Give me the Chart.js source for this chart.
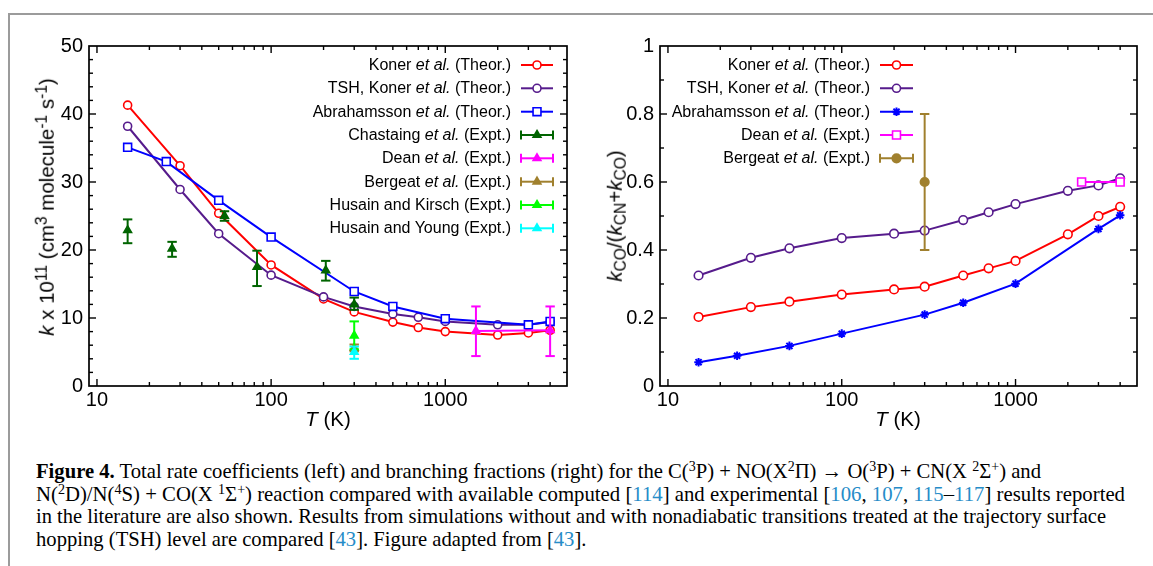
<!DOCTYPE html>
<html><head><meta charset="utf-8">
<script src="https://cdn.jsdelivr.net/npm/chart.js@4.4.1/dist/chart.umd.min.js"></script>
<style>
html,body{margin:0;padding:0;background:#fff}
body{width:1153px;height:566px;position:relative;overflow:hidden;font-family:"Liberation Sans",Arial,sans-serif;color:#000}
.gtop{position:absolute;left:8px;top:13px;width:1145px;height:2px;background:#9b9b9b}
.gleft{position:absolute;left:8px;top:13px;width:2px;height:553px;background:#9b9b9b}
canvas{position:absolute;top:0}
.ytitle,.xtitle{position:absolute;font-size:20.5px;white-space:nowrap;line-height:1}
.ytitle{transform:translate(-50%,-50%) rotate(-90deg)}
.xtitle{transform:translate(-50%,-50%)}
sup{font-size:0.76em;vertical-align:0.45em;line-height:0}
sub{font-size:0.76em;vertical-align:-0.28em;line-height:0}
.leg{position:absolute;font-size:16px;line-height:20px;height:20px;text-align:right;white-space:nowrap}
.cap{position:absolute;left:36px;font-family:"Liberation Serif","Times New Roman",serif;font-size:21.5px;line-height:23px;white-space:nowrap;transform-origin:0 0;display:inline-block}
.cap sup{font-size:0.68em;vertical-align:0.5em}
.ref{color:#268cc8}
</style>
</head><body>
<div class="gtop"></div><div class="gleft"></div>
<canvas id="c1" width="580" height="440" style="left:0"></canvas>
<canvas id="c2" width="573" height="440" style="left:580px"></canvas>

<div class="ytitle" style="left:47px;top:207px"><i>k</i> x 10<sup>11</sup> (cm<sup>3</sup> molecule<sup>-1</sup> s<sup>-1</sup>)</div>
<div class="ytitle" style="left:615px;top:216px"><i>k</i><sub>CO</sub>/(<i>k</i><sub>CN</sub>+<i>k</i><sub>CO</sub>)</div>
<div class="xtitle" style="left:328px;top:419px"><i>T</i> (K)</div>
<div class="xtitle" style="left:898px;top:419px"><i>T</i> (K)</div>

<div class="leg" style="left:0;width:511px;top:55px">Koner <i>et al.</i> (Theor.)</div>
<div class="leg" style="left:0;width:511px;top:78.3px">TSH, Koner <i>et al.</i> (Theor.)</div>
<div class="leg" style="left:0;width:511px;top:101.7px">Abrahamsson <i>et al.</i> (Theor.)</div>
<div class="leg" style="left:0;width:511px;top:125px">Chastaing <i>et al.</i> (Expt.)</div>
<div class="leg" style="left:0;width:511px;top:148.3px">Dean <i>et al.</i> (Expt.)</div>
<div class="leg" style="left:0;width:511px;top:171.7px">Bergeat <i>et al.</i> (Expt.)</div>
<div class="leg" style="left:0;width:511px;top:195px">Husain and Kirsch (Expt.)</div>
<div class="leg" style="left:0;width:511px;top:218.3px">Husain and Young (Expt.)</div>

<div class="leg" style="left:580px;width:290px;top:55px">Koner <i>et al.</i> (Theor.)</div>
<div class="leg" style="left:580px;width:290px;top:78.3px">TSH, Koner <i>et al.</i> (Theor.)</div>
<div class="leg" style="left:580px;width:290px;top:101.7px">Abrahamsson <i>et al.</i> (Theor.)</div>
<div class="leg" style="left:580px;width:290px;top:125px">Dean <i>et al.</i> (Expt.)</div>
<div class="leg" style="left:580px;width:290px;top:148.3px">Bergeat <i>et al.</i> (Expt.)</div>

<div class="cap" data-w="1005" style="top:459.6px"><b>Figure 4.</b> Total rate coefficients (left) and branching fractions (right) for the C(<sup>3</sup>P) + NO(X<sup>2</sup>Π) → O(<sup>3</sup>P) + CN(X <sup>2</sup>Σ<sup>+</sup>) and</div>
<div class="cap" data-w="1089" style="top:482.6px">N(<sup>2</sup>D)/N(<sup>4</sup>S) + CO(X <sup>1</sup>Σ<sup>+</sup>) reaction compared with available computed [<span class="ref">114</span>] and experimental [<span class="ref">106</span>, <span class="ref">107</span>, <span class="ref">115</span>–<span class="ref">117</span>] results reported</div>
<div class="cap" data-w="1070" style="top:505.3px">in the literature are also shown. Results from simulations without and with nonadiabatic transitions treated at the trajectory surface</div>
<div class="cap" data-w="0" style="top:528.1px">hopping (TSH) level are compared [<span class="ref">43</span>]. Figure adapted from [<span class="ref">43</span>].</div>

<script>
// ---------- DATA ----------
const xTickValues = [10, 100, 1000];
const kTicks = [0, 10, 20, 30, 40, 50];
const bfTicks = [0, 0.2, 0.4, 0.6, 0.8, 1];

// Left panel: k x 10^11 (cm3 molecule-1 s-1)
const theorT = [15, 30, 50, 100, 200, 300, 500, 700, 1000, 2000, 3000, 4000];
const kKoner = [41.3, 32.4, 25.4, 17.8, 12.8, 10.9, 9.4, 8.6, 8.0, 7.5, 7.8, 8.2];
const kTSH = [38.2, 28.9, 22.4, 16.3, 13.1, 11.7, 10.6, 10.1, 9.5, 9.0, 9.0, 9.4];
const abrT = [15, 25, 50, 100, 300, 500, 1000, 3000, 4000];
const kAbr = [35.1, 33.0, 27.3, 21.9, 13.9, 11.7, 9.9, 9.0, 9.5];
const chastT = [15, 27, 54, 83, 206, 300];
const chastK = [22.9, 20.2, 25.0, 17.5, 17.0, 12.0];
const chastLo = [21.0, 19.0, 24.3, 14.7, 15.5, 11.2];
const chastHi = [24.5, 21.2, 25.7, 19.9, 18.4, 13.0];
const deanT = [1500, 4000];
const deanK = [8.1, 8.2];
const deanLo = [4.4, 4.4];
const deanHi = [11.7, 11.7];
const bergT = [300];
const bergK = [5.6];
const bergLo = [5.1];
const bergHi = [6.1];
const hkT = [300];
const hkK = [7.4];
const hkLo = [5.4];
const hkHi = [9.5];
const hyT = [300];
const hyK = [5.0];
const hyLo = [4.0];
const hyHi = [5.8];

// Right panel: branching fraction kCO/(kCN+kCO)
const bfKoner = [0.203, 0.232, 0.248, 0.269, 0.284, 0.292, 0.325, 0.346, 0.368, 0.446, 0.500, 0.527];
const bfTSH = [0.325, 0.377, 0.405, 0.435, 0.448, 0.457, 0.488, 0.511, 0.535, 0.574, 0.590, 0.611];
const bfAbr = [0.070, 0.089, 0.118, 0.154, 0.210, 0.245, 0.301, 0.462, 0.502];
const bfDeanT = [2400, 4000];
const bfDean = [0.6, 0.6];
const bfBergT = [300];
const bfBerg = [0.6];
const bfBergLo = [0.4];
const bfBergHi = [0.8];

// ---------- STYLE ----------
const RED = '#ff0000', PURPLE = '#561b8c', BLUE = '#0000ff', DGREEN = '#006400',
      MAGENTA = '#ff00ff', BROWN = '#a0802e', GREEN = '#00ff00', CYAN = '#00ffff';

Chart.defaults.font.family = '"Liberation Sans", Arial, sans-serif';
Chart.defaults.color = '#000';

const pts = (xs, ys) => xs.map((x, i) => ({x, y: ys[i]}));

function ds(label, xs, ys, color, style, opt = {}) {
  return Object.assign({
    label, data: pts(xs, ys), borderColor: color, backgroundColor: color,
    borderWidth: 2, showLine: true, tension: 0,
    pointStyle: style, pointRadius: 4, pointBorderWidth: 1.6,
    pointBorderColor: color, pointBackgroundColor: '#fff', pointHoverRadius: 4
  }, opt);
}
function expt(label, xs, ys, lo, hi, color, style, line, opt = {}) {
  return ds(label, xs, ys, color, style, Object.assign({
    showLine: line, errLo: lo, errHi: hi, pointBackgroundColor: color, pointRadius: 4.5
  }, opt));
}

// ---------- PLUGINS ----------
function seg(ctx, x1, y1, x2, y2) { ctx.beginPath(); ctx.moveTo(x1, y1); ctx.lineTo(x2, y2); ctx.stroke(); }

function marker(ctx, style, x, y, r, color, solid) {
  ctx.save();
  ctx.strokeStyle = color; ctx.lineWidth = 1.6;
  ctx.fillStyle = solid ? color : '#ffffff';
  ctx.beginPath();
  if (style === 'circle') {
    ctx.arc(x, y, r, 0, Math.PI * 2); ctx.fill(); ctx.stroke();
  } else if (style === 'rect') {
    const s = r * Math.SQRT1_2; ctx.rect(x - s, y - s, 2 * s, 2 * s); ctx.fill(); ctx.stroke();
  } else if (style === 'triangle') {
    for (let k = 0; k < 3; k++) {
      const a = -Math.PI / 2 + k * 2 * Math.PI / 3;
      const px = x + r * Math.cos(a), py = y + r * Math.sin(a);
      k ? ctx.lineTo(px, py) : ctx.moveTo(px, py);
    }
    ctx.closePath(); ctx.fill(); ctx.stroke();
  } else if (style === 'star') {
    ctx.lineWidth = 2;
    for (let k = 0; k < 4; k++) {
      const a = k * Math.PI / 4;
      ctx.moveTo(x - r * Math.cos(a), y - r * Math.sin(a));
      ctx.lineTo(x + r * Math.cos(a), y + r * Math.sin(a));
    }
    ctx.stroke();
  }
  ctx.restore();
}

const errorBars = {
  id: 'errorBars',
  afterDatasetDraw(chart, args) {
    const d = chart.data.datasets[args.index];
    if (!d.errLo) return;
    const {ctx, scales: {x, y}} = chart;
    ctx.save();
    ctx.strokeStyle = d.borderColor; ctx.lineWidth = 2;
    d.data.forEach((p, i) => {
      const px = x.getPixelForValue(p.x);
      const y1 = y.getPixelForValue(d.errLo[i]), y2 = y.getPixelForValue(d.errHi[i]);
      seg(ctx, px, y1, px, y2);
      seg(ctx, px - 4.7, y1, px + 4.7, y1);
      seg(ctx, px - 4.7, y2, px + 4.7, y2);
    });
    ctx.restore();
  }
};

// frame, inward ticks and legend samples (config captured in closure)
function makeFrame(cfg) {
  return {
    id: 'frame',
    afterDraw(chart) {
      const {ctx, chartArea: a, scales: {x, y}} = chart;
      ctx.save();
      ctx.strokeStyle = '#000'; ctx.lineWidth = 1.7;
      ctx.strokeRect(a.left, a.top, a.right - a.left, a.bottom - a.top);
      ctx.lineWidth = 1.4;
      for (let d = 1; d <= 1000; d *= 10) {
        for (let m = 1; m <= 9; m++) {
          const v = d * m;
          if (v <= x.min || v >= x.max) continue;
          const px = x.getPixelForValue(v), len = m === 1 ? 7 : 4;
          seg(ctx, px, a.bottom, px, a.bottom - len);
          seg(ctx, px, a.top, px, a.top + len);
        }
      }
      const n = Math.round((y.max - y.min) / cfg.minor);
      for (let i = 1; i < n; i++) {
        const v = y.min + i * cfg.minor;
        const py = y.getPixelForValue(v);
        const major = Math.abs(Math.round(v / cfg.major) * cfg.major - v) < 1e-9;
        const len = major ? 7 : 4;
        seg(ctx, a.left, py, a.left + len, py);
        seg(ctx, a.right, py, a.right - len, py);
      }
      const L = cfg.legend;
      L.items.forEach((it, i) => {
        const yy = L.ys[i];
        ctx.strokeStyle = it.color; ctx.lineWidth = 2;
        seg(ctx, L.x1, yy, L.x2, yy);
        if (it.caps) { seg(ctx, L.x1, yy - 4.5, L.x1, yy + 4.5); seg(ctx, L.x2, yy - 4.5, L.x2, yy + 4.5); }
        marker(ctx, it.style, (L.x1 + L.x2) / 2, yy, it.r || 4, it.color, it.solid === true);
      });
      ctx.restore();
    }
  };
}

function options(cfg) {
  return {
    responsive: false, animation: false, events: [],
    layout: {padding: {left: 0, top: 46, right: cfg.padRight, bottom: 0}, autoPadding: false},
    plugins: {legend: {display: false}, tooltip: {enabled: false}},
    scales: {
      x: {type: 'logarithmic', min: 9, max: 5000,
        afterFit: s => { s.height = 54; },
        afterBuildTicks: s => { s.ticks = xTickValues.map(v => ({value: v})); },
        ticks: {callback: v => String(v), font: {size: 20}, color: '#000', padding: 2, autoSkip: false, maxRotation: 0},
        grid: {display: false, drawTicks: false}, border: {display: false}},
      y: {type: 'linear', min: cfg.ymin, max: cfg.ymax,
        afterFit: s => { s.width = cfg.yw; },
        afterBuildTicks: s => { s.ticks = cfg.yticks.map(v => ({value: v})); },
        ticks: {callback: v => String(v), font: {size: 20}, color: '#000', padding: 6, autoSkip: false},
        grid: {display: false, drawTicks: false}, border: {display: false}}
    }
  };
}

const legYs = [65, 88.3, 111.7, 135, 158.3, 181.7, 205, 228.3];

// ---------- LEFT CHART ----------
const leftSets = [
  ds('Koner et al. (Theor.)', theorT, kKoner, RED, 'circle', {pointRadius: 4}),
  ds('TSH, Koner et al. (Theor.)', theorT, kTSH, PURPLE, 'circle', {pointRadius: 4}),
  ds('Abrahamsson et al. (Theor.)', abrT, kAbr, BLUE, 'rect', {pointRadius: 5.6}),
  expt('Chastaing et al. (Expt.)', chastT, chastK, chastLo, chastHi, DGREEN, 'triangle', false),
  expt('Dean et al. (Expt.)', deanT, deanK, deanLo, deanHi, MAGENTA, 'triangle', true),
  expt('Bergeat et al. (Expt.)', bergT, bergK, bergLo, bergHi, BROWN, 'triangle', false),
  expt('Husain and Kirsch (Expt.)', hkT, hkK, hkLo, hkHi, GREEN, 'triangle', false),
  expt('Husain and Young (Expt.)', hyT, hyK, hyLo, hyHi, CYAN, 'triangle', false)
];
leftSets.forEach((d, i) => d.order = -i);

new Chart(document.getElementById('c1'), {
  type: 'line',
  data: {datasets: leftSets},
  options: options({padRight: 13, yw: 89, ymin: 0, ymax: 50, yticks: kTicks}),
  plugins: [errorBars, makeFrame({minor: 2, major: 10,
    legend: {x1: 521, x2: 553, ys: legYs, items: [
      {color: RED, style: 'circle'}, {color: PURPLE, style: 'circle'}, {color: BLUE, style: 'rect', r: 5.6},
      {color: DGREEN, style: 'triangle', solid: true, caps: true, r: 4.5},
      {color: MAGENTA, style: 'triangle', solid: true, caps: true, r: 4.5},
      {color: BROWN, style: 'triangle', solid: true, caps: true, r: 4.5},
      {color: GREEN, style: 'triangle', solid: true, caps: true, r: 4.5},
      {color: CYAN, style: 'triangle', solid: true, caps: true, r: 4.5}]}})]
});

// ---------- RIGHT CHART ----------
const rightSets = [
  ds('Koner et al. (Theor.)', theorT, bfKoner, RED, 'circle', {pointRadius: 4.3}),
  ds('TSH, Koner et al. (Theor.)', theorT, bfTSH, PURPLE, 'circle', {pointRadius: 4.3}),
  ds('Abrahamsson et al. (Theor.)', abrT, bfAbr, BLUE, 'star', {pointRadius: 4.3, pointBorderWidth: 2}),
  ds('Dean et al. (Expt.)', bfDeanT, bfDean, MAGENTA, 'rect', {pointRadius: 5.6}),
  expt('Bergeat et al. (Expt.)', bfBergT, bfBerg, bfBergLo, bfBergHi, BROWN, 'circle', false, {pointRadius: 4.3})
];
rightSets.forEach((d, i) => d.order = -i);

new Chart(document.getElementById('c2'), {
  type: 'line',
  data: {datasets: rightSets},
  options: options({padRight: 16, yw: 80, ymin: 0, ymax: 1, yticks: bfTicks}),
  plugins: [errorBars, makeFrame({minor: 0.1, major: 0.2,
    legend: {x1: 300, x2: 333, ys: legYs, items: [
      {color: RED, style: 'circle'}, {color: PURPLE, style: 'circle'}, {color: BLUE, style: 'star', r: 4.3},
      {color: MAGENTA, style: 'rect', r: 5.6},
      {color: BROWN, style: 'circle', solid: true, caps: true, r: 4.3}]}})]
});

// ---------- CAPTION FIT ----------
function fitCaption() {
  const caps = [...document.querySelectorAll('.cap')];
  const scales = [];
  caps.forEach(el => {
    el.style.transform = 'none';
    const w = el.getBoundingClientRect().width, t = +el.dataset.w;
    if (t > 0) { const s = t / w; scales.push(s); el.style.transform = 'scaleX(' + s + ')'; }
  });
  const avg = scales.reduce((a, b) => a + b, 0) / scales.length;
  caps.forEach(el => { if (+el.dataset.w === 0) el.style.transform = 'scaleX(' + avg + ')'; });
}
fitCaption();
if (document.fonts && document.fonts.ready) document.fonts.ready.then(fitCaption);
</script>
</body></html>
